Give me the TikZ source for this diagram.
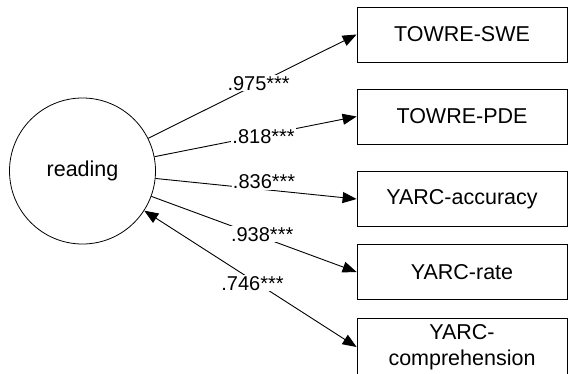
\documentclass[tikz,border=0pt]{standalone}
\usepackage{fontspec}
\setmainfont{Liberation Sans}
\usetikzlibrary{arrows.meta}

\begin{document}
\begin{tikzpicture}[x=1pt, y=-1pt,
	latent/.style={draw, circle, minimum size=146pt, inner sep=0pt, line width=0.8pt, font=\fontsize{21.5}{26}\selectfont},
	obs/.style={draw, rectangle, minimum width=210pt, minimum height=55pt, inner sep=0pt, line width=0.8pt, align=center, font=\fontsize{21.5}{26}\selectfont},
	load/.style={line width=0.9pt, -{Triangle[length=14pt,width=11pt]}},
	coef/.style={fill=white, inner sep=1pt, font=\fontsize{20}{24}\selectfont}]
	\useasboundingbox (0,0) rectangle (568,373);
	% latent factor and its indicators
	\node[latent] (read) at (82.5,171) {reading};
	\node[obs] (swe) at (462,34.5) {TOWRE-SWE};
	\node[obs] (pde) at (462,116.5) {TOWRE-PDE};
	\node[obs] (acc) at (462,199) {YARC-accuracy};
	\node[obs] (rate) at (462,272) {YARC-rate};
	\node[obs, minimum height=58pt] (comp) at (462,347) {YARC-\\comprehension};
	% loadings
	\draw[load] (read) -- (swe.west) node[coef, pos=0.53] {.975***};
	\draw[load] (read) -- (pde.west) node[coef, pos=0.54, yshift=-1.5pt] {.818***};
	\draw[load] (read) -- (acc.west) node[coef, pos=0.54, yshift=8pt] {.836***};
	\draw[load] (read) -- (rate.west) node[coef, pos=0.54, yshift=3pt] {.938***};
	\draw[load, {Triangle[length=14pt,width=11pt]}-{Triangle[length=14pt,width=11pt]}] (read) -- (comp.west) node[coef, pos=0.51, yshift=-3pt] {.746***};
\end{tikzpicture}
\end{document}
